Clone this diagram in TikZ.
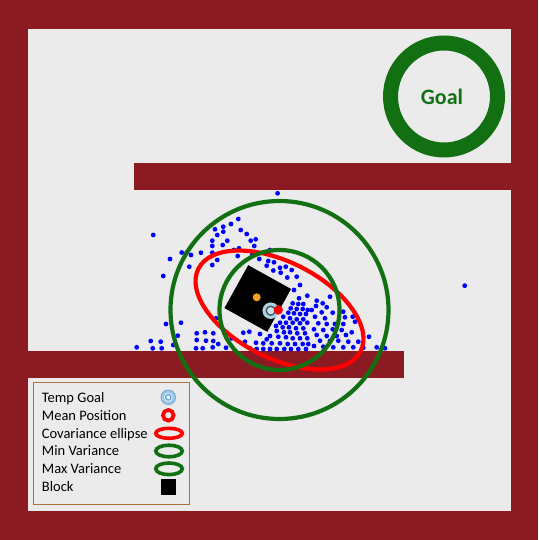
\documentclass[tikz,border=0pt]{standalone}
\usepackage{fontspec}
\setmainfont{Carlito}
\usetikzlibrary{positioning,shapes.geometric}
\definecolor{wallred}{HTML}{8C1A22}
\definecolor{floorgray}{HTML}{EBEBEB}
\definecolor{goalgreen}{HTML}{127012}
\definecolor{partblue}{HTML}{0000FF}
\definecolor{meanred}{HTML}{FF0000}
\definecolor{blockorange}{HTML}{F5A020}
\definecolor{tempblue}{HTML}{A8D5E8}
\definecolor{iconblue}{HTML}{6FA0D8}
\definecolor{legendedge}{HTML}{B0703A}

\begin{document}
\begin{tikzpicture}[x=1pt,y=-1pt,
  wall/.style={fill=wallred},
  particle/.style={fill=partblue},
  varring/.style={draw=goalgreen,line width=4.2},
  covring/.style={draw=meanred,line width=4.2},
  blockbox/.style={rectangle,fill=black,inner sep=0,minimum size=49,rotate=-29},
  marker/.style={circle,inner sep=0},
  legtext/.style={anchor=base west,inner sep=0,font=\fontsize{14.5}{17}\selectfont},
  legendbox/.style={rectangle,draw=legendedge,line width=0.9,fill=floorgray,inner sep=0,
                    minimum width=155.6,minimum height=122,anchor=north west}
]
  % maze
  \fill[wall] (0,0) rectangle (538,540);
  \fill[floorgray] (27.5,29) rectangle (511,511);
  \fill[wall] (134,163) rectangle (511,190);
  \fill[wall] (27.5,351) rectangle (404,378);

  % goal
  \draw[goalgreen,line width=15] (444,96.5) circle (53.5);
  \node[text=goalgreen,font=\bfseries\fontsize{22}{22}\selectfont] (goal) at (442,96.5) {Goal};

  % particles
  \foreach \x/\y in {277.6/193.3,153.3/235,170/259,181.7/252.5,186.7/252.5,191/255,201/252.7,
    189.3/266.7,212.3/252.7,212.3/246,212.3/240.7,215/229.3,217.3/235,212.3/265,217.3/260,
    238.3/219,231/224,223.3/226.7,223.3/231.7,240.7/230,246.7/234,227.3/240.7,222.7/245,
    250.7/240.7,255.7/239.3,254.3/246,234/250,239/248.3,237.7/256,252.3/255,270/250,
    259.3/259,268.3/261,274/262.3,266.7/265.7,280/267.7,285.7/266.7,291.7/270,280.7/272.7,
    287.3/277.5,273.3/270.5,
    163.3/276,166/324,181/322.7,177.7/335.7,136.7/347.3,150.7/341,160.7/341.7,152.7/348.3,
    161.7/348.3,173.3/345,196.7/333.3,205/332.3,213.3/333.3,196.7/340,206/340.7,213.3/341,
    196/348.3,202.7/348.3,212.7/347.3,218.3/344,216/318.3,
    296.7/276.7,300/285,294/290,307.3/295.7,299/298.3,292.7/303.3,298.3/304,303.3/304,
    290.7/308.3,296.7/309,302.7/309,307.7/310,288.3/312.7,294/313.3,300/314,306/314,
    283.3/316.7,290/318.3,296.7/319.3,303.3/319.3,280/322.7,286/322.7,292.7/322.7,300/323.3,
    307.3/322.7,276/326,282.7/327.3,289/327.3,296/328.3,303.3/328.3,276.7/331,284/332.3,
    290/332.3,297.3/333.3,305/333.3,270/336,278.3/336.7,286/337.3,292.7/338.3,300/338.3,
    307.3/338.3,243.3/332.7,249.3/331.7,260/334,266.7/339.3,245/341.7,256/342.7,263.3/343.3,
    271.7/343.3,280/343.3,287.7/344,295/344,302.7/344,308.3/344,250/348.3,256.7/349,
    263.3/349,270/349,276.7/349,284.3/349,291/349,298.3/349,306/349,231.7/338.3,226/347.7,
    330/296.7,316.7/300.7,322.7/303.3,316/306,326.7/307.3,311.7/310,321.7/312.3,332.7/312.7,
    343.3/311.7,315/316.7,325/318.3,345/317.3,352.7/316.7,318.3/323.3,326.7/324,335/324,
    343.3/324,355/321.7,314/329.3,323.3/330,332.7/329.3,341.7/330,351.7/332.3,316.7/335,
    326.7/336,336.7/336,346/335,369/336.7,320/340.7,330/341,338.3/340.7,348.3/341.7,
    358.3/341.7,314/346,323.3/346.7,333.3/347.3,343.3/347.3,353.3/347.3,363.3/347.7,
    376.7/347.3,385/348.3,464.7/285.7}
    \fill[particle] (\x,\y) circle (2.4);

  % block and estimate
  \node[blockbox] (block) at (257.75,298.5) {};
  \draw[covring,rotate around={-27:(279.5,310)}] (279.5,310) ellipse [x radius=91pt,y radius=48pt];
  \draw[varring] (279.5,310) circle (60);
  \draw[varring] (279.5,310) circle (109);
  \node[marker,fill=blockorange,minimum size=8] (centre) at (256.7,297.3) {};
  \node[marker,fill=tempblue,minimum size=16.5] (tgoal) at (270.7,310.7) {};
  \node[marker,draw=gray!60!black,line width=1.3,fill=tempblue!70!white,minimum size=9] (tgoalin) at (tgoal) {};
  \node[marker,fill=meanred,minimum size=9.3] (mean) at (278.3,310) {};

  % legend
  \node[legendbox] (legend) at (33.4,382) {};
  \foreach \y/\txt [count=\i] in {397.3/Temp Goal,415.3/Mean Position,433.3/Covariance ellipse,
    451/Min Variance,468.8/Max Variance,487.2/Block}
    \node[legtext] (leg\i) at (41.7,\y+4.7) {\txt};
  \node[marker,draw=iconblue,line width=0.8,fill=tempblue!80!iconblue,minimum size=14.5] (icontemp) at (168.3,397.3) {};
  \node[marker,fill=white!85!tempblue,minimum size=8.5] (icontempin) at (icontemp) {};
  \node[marker,draw=iconblue,line width=1.3,minimum size=5.5] at (icontemp) {};
  \draw[meanred,line width=3.8] (168.3,415.3) circle (5.3);
  \draw[meanred,line width=3.6] (169,433.3) ellipse [x radius=13.3pt,y radius=5pt];
  \draw[goalgreen,line width=3.6] (169,451) ellipse [x radius=13.3pt,y radius=5.8pt];
  \draw[goalgreen,line width=3.6] (169,468.8) ellipse [x radius=13.3pt,y radius=5.8pt];
  \node[rectangle,fill=black,inner sep=0,minimum size=15.5] (iconblock) at (168.3,487.2) {};
\end{tikzpicture}
\end{document}
